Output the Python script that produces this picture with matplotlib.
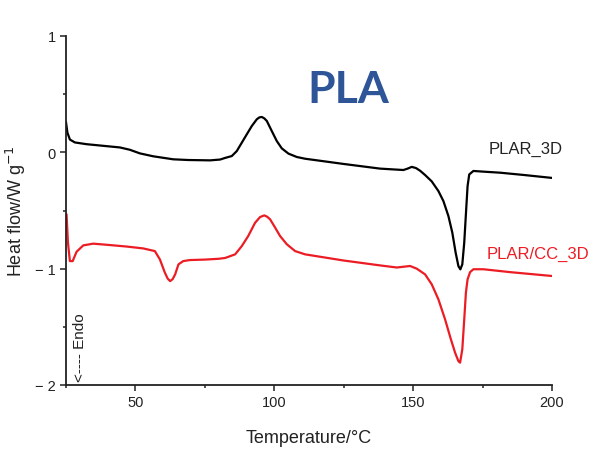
import matplotlib
matplotlib.use("Agg")
import matplotlib.pyplot as plt

plt.rcParams['font.family'] = ['Liberation Sans', 'DejaVu Sans']

# PLAR_3D (black)
t_black = [25.0, 25.5, 26.4, 28.2, 32.4, 38.4, 44.4, 48.0, 51.6, 56.4, 63.6, 69.0,
           76.9, 80.5, 82.3, 84.7, 86.5, 88.3, 90.1, 91.9, 93.7, 94.6, 95.5, 96.4,
           97.3, 99.1, 100.9, 102.7, 105.1, 108.1, 111.1, 125.0, 138.1, 146.5,
           148.0, 149.5, 151.0, 152.5, 154.3, 156.7, 159.1, 160.9, 162.7, 164.1,
           165.3, 166.3, 167.0, 167.7, 168.4, 169.1, 169.6, 170.2, 171.7, 175.3,
           181.3, 190.0, 200.0]
hf_black = [0.26, 0.17, 0.11, 0.085, 0.07, 0.056, 0.042, 0.022, -0.009, -0.034,
            -0.06, -0.066, -0.069, -0.062, -0.048, -0.032, 0.011, 0.083, 0.155,
            0.226, 0.284, 0.300, 0.304, 0.292, 0.27, 0.183, 0.097, 0.034, -0.011,
            -0.04, -0.055, -0.10, -0.14, -0.152, -0.14, -0.125, -0.135, -0.158,
            -0.195, -0.25, -0.333, -0.419, -0.548, -0.69, -0.862, -0.978, -1.006,
            -0.963, -0.776, -0.49, -0.29, -0.19, -0.16, -0.166, -0.175, -0.195,
            -0.22]

# PLAR/CC_3D (red)
t_red = [25.2, 25.7, 26.4, 27.4, 28.8, 31.2, 34.8, 40.8, 46.9, 52.8, 57.0, 58.8,
         60.6, 61.6, 62.5, 63.4, 64.3, 65.5, 67.2, 69.6, 75.0, 80.0, 82.3, 85.9,
         88.3, 90.6, 93.1, 94.9, 96.4, 97.4, 98.5, 100.3, 102.1, 104.5, 107.5,
         111.1, 125.0, 138.1, 144.1, 148.9, 151.3, 154.3, 156.7, 159.1, 161.5,
         163.6, 165.1, 166.3, 166.9, 167.7, 168.4, 169.0, 169.6, 170.5, 171.7,
         175.3, 185.0, 200.0]
hf_red = [-0.533, -0.776, -0.935, -0.935, -0.855, -0.80, -0.785, -0.797, -0.81,
          -0.826, -0.849, -0.92, -1.034, -1.085, -1.107, -1.09, -1.049, -0.963,
          -0.935, -0.926, -0.922, -0.915, -0.908, -0.877, -0.806, -0.72, -0.605,
          -0.556, -0.542, -0.553, -0.576, -0.647, -0.72, -0.79, -0.849, -0.877,
          -0.93, -0.972, -0.99, -0.977, -1.0, -1.049, -1.135, -1.264, -1.436,
          -1.608, -1.722, -1.795, -1.808, -1.694, -1.436, -1.206, -1.092, -1.03,
          -1.005, -1.005, -1.03, -1.063]

x_ticks = [50, 100, 150, 200]
x_minor = [25, 75, 125, 175]
y_ticks = [-2, -1, 0, 1]
y_minor = [-1.5, -0.5, 0.5]

RED = '#ec1c24'
INK = '#222222'

fig = plt.figure(figsize=(5.95, 4.56), dpi=100)
ax = fig.add_axes([66/595, 1-386/456, (552-66)/595, (386-37)/456])

ax.plot(t_black, hf_black, color='black', lw=1.6, solid_joinstyle='round',
        solid_capstyle='round')
ax.plot(t_red, hf_red, color=RED, lw=1.6, solid_joinstyle='round',
        solid_capstyle='round')

ax.set_xlim(25, 200)
ax.set_ylim(-2, 1)
ax.set_xticks(x_ticks)
ax.set_xticks(x_minor, minor=True)
ax.set_yticks(y_ticks)
ax.set_yticks(y_minor, minor=True)
ax.set_yticklabels(['\u2212 2', '\u2212 1', '0', '1'])

for s in ['top', 'right']:
    ax.spines[s].set_visible(False)
for s in ['left', 'bottom']:
    ax.spines[s].set_linewidth(1.3)
    ax.spines[s].set_color(INK)

ax.tick_params(which='major', direction='out', length=4.5, width=1.1,
               labelsize=10.5, color=INK, labelcolor=INK, pad=3)
ax.tick_params(which='minor', direction='out', length=2.5, width=1.1, color=INK)

ax.set_xlabel('Temperature/\u00b0C', fontsize=13, color=INK, labelpad=14)
ax.set_ylabel('Heat flow/W g$^{\u22121}$', fontsize=13, color=INK, labelpad=5)

ax.text(177.3, 0.03, 'PLAR_3D', color=INK, fontsize=12, ha='left', va='center',
        clip_on=False)
ax.text(176.4, -0.87, 'PLAR/CC_3D', color=RED, fontsize=12, ha='left', va='center',
        clip_on=False)
ax.text(30.0, -1.965, '<---- Endo', rotation=90, fontsize=11, color=INK,
        ha='center', va='bottom')

fig.text(348/595, 1-103/456, 'PLA', fontsize=32, fontweight='bold', family='Lato',
         color='#2e5597', ha='center', va='baseline')

fig.savefig('out.png', dpi=100)
